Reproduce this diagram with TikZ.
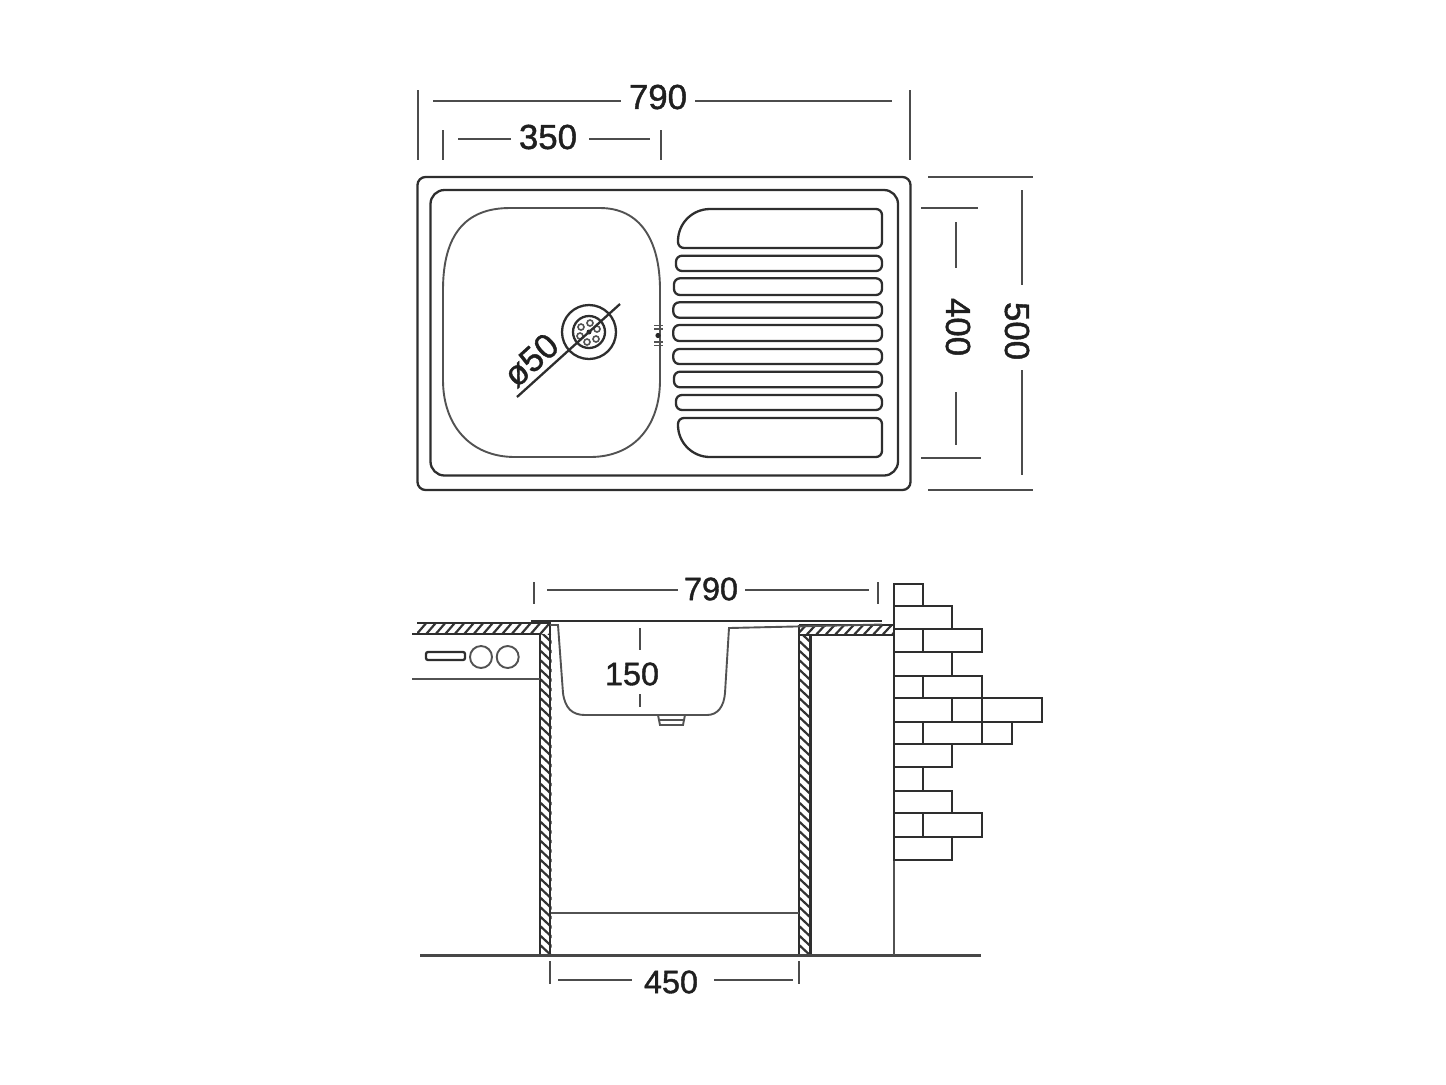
\documentclass[tikz,border=0pt]{standalone}
\usepackage{fontspec}
\setmainfont[FakeBold=1.2]{Liberation Sans}
\begin{document}
\begin{tikzpicture}[x=0.5pt,y=-0.5pt]
 \tikzset{sink line/.style={draw=black!82,line width=1.15pt},
  thin line/.style={draw=black!68,line width=0.95pt},
  dim line/.style={draw=black!70,line width=1pt},
  brick/.style={draw=black!82,line width=1.1pt},
  hatch line/.style={draw=black!80,line width=1.1pt},
  dim label/.style={inner sep=0pt,text=black!88,font=\fontsize{#1}{#1}\selectfont},
  dim label/.default=17.4pt
}
\useasboundingbox (0,0) rectangle (1446,1084);
\draw[sink line,rounded corners=4pt] (417.5,177) rectangle (910.5,490);
\draw[sink line,rounded corners=7pt] (430.5,190) rectangle (898,475.5);
\draw[thin line] (510,208) -- (600,208) .. controls (640,208) and (660,240) .. (660,290) -- (660,380)
  .. controls (660,425) and (635,457) .. (590,457) -- (515,457)
  .. controls (470,457) and (443,425) .. (443,380) -- (443,290) .. controls (443,235) and (465,208) .. (510,208) -- cycle;
\draw[sink line] (589,332) circle (27);
\draw[sink line] (589,332) circle (16);
\foreach \holex/\holey in {581/327,590/323,597/329,596/339,587/342,580/336}
  \draw[thin line,line width=0.8pt] (\holex,\holey) circle (3);
\fill[black!85] (589,332) circle (2.5);
\fill[black!85] (658,335.5) circle (2.6);
\foreach \marky in {325.5,329,342,345.5}
  \draw[thin line,line width=0.7pt] (654,\marky) -- (663,\marky);
\draw[sink line] (517,397) -- (620,304);
\node[dim label,rotate=42] (holelabel) at (531,360) {ø50};
\draw[sink line,rounded corners=3pt] (678,248) [rounded corners=16pt] -- (678,209) [rounded corners=3pt] -- (882,209) -- (882,248) -- cycle;
\draw[sink line,rounded corners=3pt] (678,418) -- (882,418) -- (882,457) [rounded corners=16pt] -- (678,457) [rounded corners=3pt] -- cycle;
\foreach \ribtop/\ribbot/\ribleft in {255.7/271/676,278.3/295/674,302.3/317.7/673.3,325/341/673.3,349/364/673.3,371.7/387.3/674,395/410/676}
  \draw[sink line,rounded corners=3pt] (\ribleft,\ribtop) rectangle (882,\ribbot);
\draw[dim line] (418,90) -- (418,160);
\draw[dim line] (910,90) -- (910,160);
\draw[dim line] (433,101) -- (621,101);
\draw[dim line] (695,101) -- (892,101);
\node[dim label] (widthtop) at (658,97) {790};
\draw[dim line] (443,130) -- (443,160);
\draw[dim line] (661,130) -- (661,160);
\draw[dim line] (458,139) -- (511,139);
\draw[dim line] (589,139) -- (650,139);
\node[dim label] (bowlwidth) at (548,137) {350};
\draw[dim line] (928,177) -- (1033,177);
\draw[dim line] (928,490) -- (1033,490);
\draw[dim line] (1022,190) -- (1022,285);
\draw[dim line] (1022,370) -- (1022,475);
\node[dim label,rotate=-90] (depthouter) at (1017,331) {500};
\draw[dim line] (921,208) -- (978,208);
\draw[dim line] (921,458) -- (981,458);
\draw[dim line] (956,222) -- (956,268);
\draw[dim line] (956,392) -- (956,445);
\node[dim label,rotate=-90] (depthbowl) at (958,327) {400};
\draw[dim line] (534,582) -- (534,604);
\draw[dim line] (878,582) -- (878,604);
\draw[dim line] (547,590) -- (678,590);
\draw[dim line] (745,590) -- (869,590);
\node[dim label=16.2pt] (widthlow) at (711,589) {790};
\draw[dim line] (640,628) -- (640,650);
\draw[dim line] (640,694) -- (640,707);
\node[dim label=16.2pt] (bowldepth) at (632,674) {150};
\draw[dim line] (549.5,961) -- (549.5,984);
\draw[dim line] (799,961) -- (799,984);
\draw[dim line] (558,980) -- (632,980);
\draw[dim line] (714,980) -- (793,980);
\node[dim label=16.2pt] (cabinetwidth) at (671,982) {450};
\begin{scope}
\clip (417,623) rectangle (550,634);
\foreach \hx in {415,424.5,...,560}
  \draw[hatch line] (\hx,636) -- (\hx+13,621);
\end{scope}
\begin{scope}
\clip (799,625) rectangle (893,635);
\foreach \hx in {795,804.5,...,900}
  \draw[hatch line] (\hx,637) -- (\hx+13,623);
\end{scope}
\begin{scope}
\clip (540,634) rectangle (551.5,955);
\foreach \hy in {620,629.5,...,960}
  \draw[hatch line] (538,\hy) -- (553,\hy+14);
\end{scope}
\begin{scope}
\clip (799,635) rectangle (810.5,955);
\foreach \hy in {620,629.5,...,960}
  \draw[hatch line] (797,\hy) -- (812,\hy+14);
\end{scope}
\draw[sink line] (417,623) -- (550,623) -- (550,955);
\draw[sink line] (412,634) -- (540,634) -- (540,955);
\draw[sink line] (799,625) -- (893,625);
\draw[sink line] (799,635) -- (893,635);
\draw[sink line] (799,625) -- (799,955);
\draw[sink line] (810.5,635) -- (810.5,955);
\draw[sink line] (531,621) -- (882,621);
\draw[thin line] (550,625) -- (558,625) -- (563,693) .. controls (565,708) and (572,715) .. (585,715)
  -- (707,715) .. controls (718,715) and (724,706) .. (725,693) -- (729,628) -- (882,624.5);
\draw[thin line] (658,715) -- (660,725) -- (683,725) -- (685,715);
\draw[thin line,line width=0.7pt] (659,720) -- (684,720);
\draw[sink line,rounded corners=1pt] (426,652) rectangle (465,660);
\draw[thin line] (481,657) circle (11);
\draw[thin line] (507.7,657) circle (11);
\draw[thin line] (412,679) -- (540,679);
\draw[sink line,draw=black!72] (420,955.5) -- (981,955.5);
\draw[thin line] (551,913) -- (799,913);
\draw[thin line,line width=1.1pt] (894,860) -- (894,955);
\foreach \ytop/\ybot/\xa/\xb in {584/606/894/923.3,606/629.3/894/952.3,
  629.3/652.3/894/923.3,629.3/652.3/923.3/982.3,652.3/675.7/894/952.3,
  675.7/698.3/894/923.3,675.7/698.3/923.3/982.3,
  698.3/721.7/894/952.3,698.3/721.7/952.3/982.3,698.3/721.7/982.3/1041.7,
  721.7/744.3/894/923.3,721.7/744.3/923.3/982.3,721.7/744.3/982.3/1012.3,
  744.3/767/894/952.3,767/790.7/894/923.3,790.7/813.3/894/952.3,
  813.3/837.3/894/923.3,813.3/837.3/923.3/982.3,837.3/860/894/952.3}
  \draw[brick] (\xa,\ytop) rectangle (\xb,\ybot);
\end{tikzpicture}
\end{document}
